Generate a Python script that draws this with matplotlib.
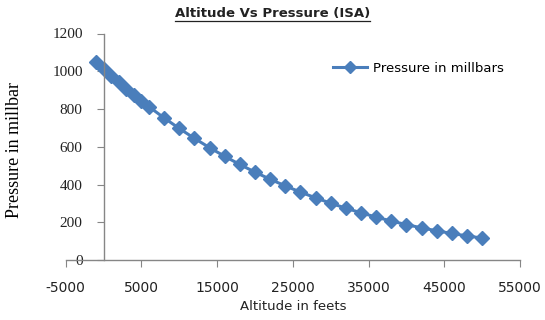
import matplotlib
matplotlib.use("Agg")
import matplotlib.pyplot as plt
from matplotlib.lines import Line2D

plt.rcParams["axes.unicode_minus"] = False

# ISA altitude (ft) vs pressure (mbar)
altitude_ft = [-1000, 0, 1000, 2000, 3000, 4000, 5000, 6000,
               8000, 10000, 12000, 14000, 16000, 18000, 20000, 22000,
               24000, 26000, 28000, 30000, 32000, 34000, 36000, 38000,
               40000, 42000, 44000, 46000, 48000, 50000]
pressure_mb = [1050.4, 1013.25, 977.2, 942.1, 908.1, 875.1, 843.1, 812.0,
               752.6, 696.8, 644.4, 595.2, 549.2, 506.0, 465.6, 427.9,
               392.7, 359.9, 329.3, 300.9, 274.5, 250.0, 227.3, 206.5,
               187.5, 170.4, 154.7, 140.5, 127.7, 116.0]
x_ticks = [-5000, 5000, 15000, 25000, 35000, 45000, 55000]
y_ticks = [0, 200, 400, 600, 800, 1000, 1200]

blue = "#4A7EBB"
grey = "#868686"

fig = plt.figure(figsize=(5.45, 3.2), dpi=100)
ax = fig.add_axes([65.7 / 545, 60 / 320, (520 - 65.7) / 545, (260 - 33.5) / 320])

ax.plot(altitude_ft, pressure_mb, color=blue, linewidth=2.2, marker="D",
        markersize=7, markerfacecolor=blue, markeredgecolor=blue,
        label="Pressure in millbars")

ax.set_xlim(-5000, 55000)
ax.set_ylim(0, 1200)
ax.set_xticks(x_ticks)
ax.set_yticks(y_ticks)

# axes cross at zero, like the Excel original
ax.spines["left"].set_position(("data", 0))
ax.spines["top"].set_visible(False)
ax.spines["right"].set_visible(False)
for s in ("left", "bottom"):
    ax.spines[s].set_color(grey)
    ax.spines[s].set_linewidth(1.0)

ax.tick_params(axis="x", direction="out", length=5, color=grey, pad=10,
               labelsize=10, labelcolor="#222222")
ax.tick_params(axis="y", direction="out", length=5, color=grey, pad=10,
               labelsize=10, labelcolor="#222222")
for lbl in ax.get_yticklabels():
    lbl.set_fontfamily("Liberation Serif")
    lbl.set_fontsize(11)

ax.set_xlabel("Altitude in feets", fontsize=9.5, color="#222222", labelpad=4)
fig.text(15 / 545, 1 - 150 / 320, "Pressure in millbar", rotation=90,
         ha="center", va="center", fontsize=13, family="Liberation Serif")

leg = ax.legend(loc="upper left", bbox_to_anchor=(333 / 545, 1 - 62 / 320),
                bbox_transform=fig.transFigure, frameon=False, fontsize=9.5,
                handlelength=2.6, handletextpad=0.4, borderaxespad=0, borderpad=0)
for h in leg.legend_handles:
    h.set_markersize(6)

title = fig.text(0.5, 1 - 13 / 320, "Altitude Vs Pressure (ISA)", ha="center",
                 va="center", fontsize=9.5, fontweight="bold", color="#222222")

# underline the title
fig.canvas.draw()
bb = title.get_window_extent().transformed(fig.transFigure.inverted())
fig.add_artist(Line2D([bb.x0, bb.x1], [bb.y0 - 0.004, bb.y0 - 0.004],
                      transform=fig.transFigure, color="#222222", linewidth=0.9))

fig.savefig("out.png", dpi=100)
